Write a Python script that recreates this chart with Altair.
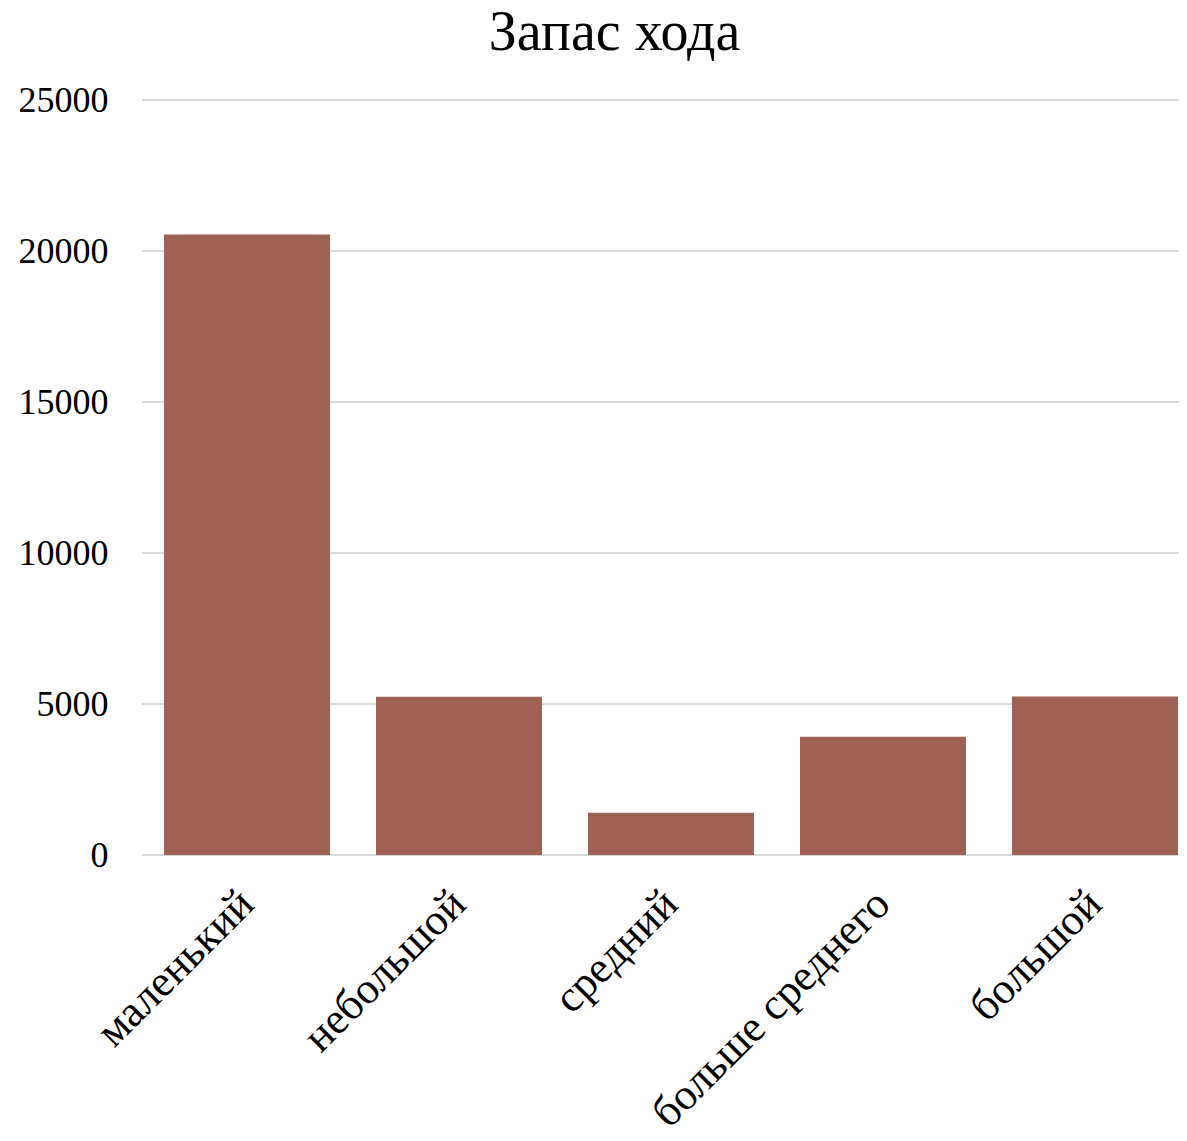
import altair as alt
import pandas as pd

categories = ["маленький", "небольшой", "средний", "больше среднего", "большой"]
values = [20550, 5240, 1400, 3915, 5250]
ticks = [0, 5000, 10000, 15000, 20000, 25000]

df = pd.DataFrame({"cat": categories, "val": values})
grid_df = pd.DataFrame({"t": ticks})

FONT = "Liberation Serif"
W = 1037
H = 755

yscale = alt.Scale(domain=[0, 25000], nice=False)

grid = alt.Chart(grid_df).mark_rule(color="#d9d9d9", strokeWidth=2).encode(
    y=alt.Y("t:Q", scale=yscale),
    x=alt.value(0),
    x2=alt.value(W),
)

bars = alt.Chart(df).mark_bar(color="#9e6254").encode(
    x=alt.X("cat:N", sort=categories, title=None,
            scale=alt.Scale(paddingInner=0.217, paddingOuter=0, range=[22, 1036]),
            axis=alt.Axis(labelAngle=-45, labelAlign="right", labelBaseline="middle",
                          labelPadding=42, ticks=False, domain=False, grid=False,
                          labelFont=FONT, labelFontSize=44, labelColor="#000000",
                          labelLimit=0)),
    y=alt.Y("val:Q", title=None, scale=yscale,
            axis=alt.Axis(values=ticks, ticks=False, grid=False,
                          domain=False, labelPadding=34, labelFont=FONT, labelFontSize=36,
                          labelColor="#000000", format="d")),
)

chart = alt.layer(grid, bars).properties(
    width=W,
    height=H,
    title=alt.TitleParams("Запас хода", font=FONT, fontSize=56, fontWeight="normal",
                          color="#000000", anchor="middle", dx=-46, offset=20),
    autosize=alt.AutoSizeParams(type="none"),
    padding={"left": 134, "top": 92, "right": 0, "bottom": 278},
).configure_view(stroke=None)

chart.save("out.html", embed_options={"renderer": "svg", "actions": False})
